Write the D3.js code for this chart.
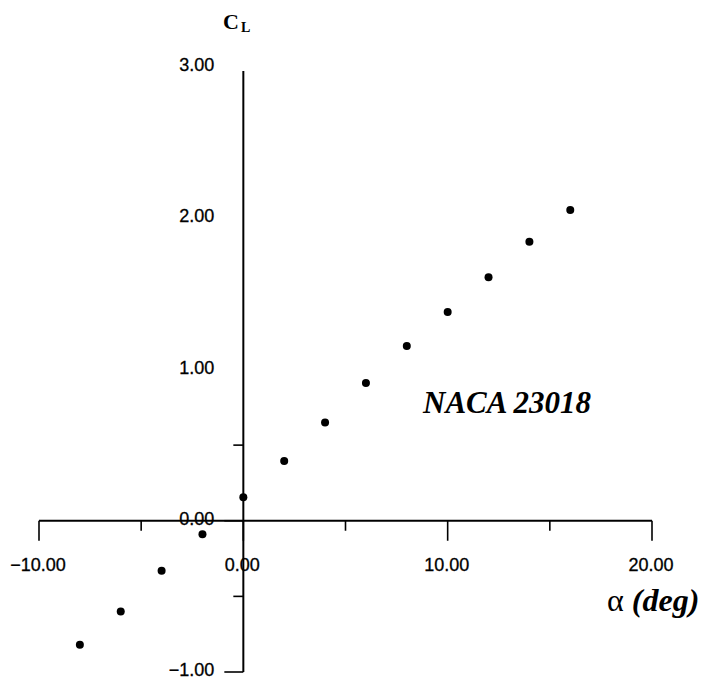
<!DOCTYPE html>
<html>
<head>
<meta charset="utf-8">
<script src="https://cdn.jsdelivr.net/npm/d3@7"></script>
<style>
  html, body { margin: 0; padding: 0; background: #fff; }
  svg { display: block; }
</style>
</head>
<body>
<svg id="chart" width="709" height="685"></svg>
<script>
// Lift coefficient vs angle of attack, NACA 23018
const alphaDeg = [-8, -6, -4, -2, 0, 2, 4, 6, 8, 10, 12, 14, 16];
const liftCoef = [-0.82, -0.60, -0.33, -0.09, 0.155, 0.395, 0.65, 0.91, 1.155, 1.38, 1.61, 1.845, 2.055];

const xTickValues = [-10, 0, 10, 20];
const xMinorTicks = [-5, 5, 15];
const yTickValues = [-1, 0, 1, 2, 3];
const yVisibleMinor = [-0.5, 0.5];

const svg = d3.select("#chart");
const x = d3.scaleLinear().domain([-10, 20]).range([39, 652]);
const y = d3.scaleLinear().domain([-1, 3]).range([672, 67]);
const fmt = d3.format(".2f");
const ink = "#000";

// x axis through y = 0
const xAxis = svg.append("g").attr("transform", `translate(0,${y(0)})`);
xAxis.append("line")
  .attr("x1", x(-10)).attr("x2", x(20))
  .attr("stroke", ink).attr("stroke-width", 2);
xAxis.selectAll("line.major").data(xTickValues).join("line")
  .attr("class", "major")
  .attr("x1", d => x(d)).attr("x2", d => x(d))
  .attr("y1", 0).attr("y2", 20)
  .attr("stroke", ink).attr("stroke-width", 1.6);
xAxis.selectAll("line.minor").data(xMinorTicks).join("line")
  .attr("class", "minor")
  .attr("x1", d => x(d)).attr("x2", d => x(d))
  .attr("y1", 0).attr("y2", 10)
  .attr("stroke", ink).attr("stroke-width", 1.6);
xAxis.selectAll("text").data(xTickValues).join("text")
  .attr("x", d => x(d) - 1).attr("y", 50)
  .attr("text-anchor", "middle")
  .attr("font-family", "Liberation Sans, Arial, sans-serif")
  .attr("font-size", 18)
  .attr("stroke", ink).attr("stroke-width", 0.3)
  .attr("fill", ink)
  .text(d => fmt(d));

// y axis through x = 0
const yAxis = svg.append("g").attr("transform", `translate(${x(0)},0)`);
yAxis.append("line")
  .attr("y1", y(3) + 4).attr("y2", y(-1))
  .attr("stroke", ink).attr("stroke-width", 2);
yAxis.selectAll("line.major").data([-1, 0]).join("line")
  .attr("class", "major")
  .attr("x1", -19).attr("x2", 0)
  .attr("y1", d => y(d)).attr("y2", d => y(d))
  .attr("stroke", ink).attr("stroke-width", 1.6);
yAxis.selectAll("line.minor").data(yVisibleMinor).join("line")
  .attr("class", "minor")
  .attr("x1", -10).attr("x2", 0)
  .attr("y1", d => y(d)).attr("y2", d => y(d))
  .attr("stroke", ink).attr("stroke-width", 1.6);
yAxis.selectAll("text").data(yTickValues).join("text")
  .attr("x", -29).attr("y", d => y(d) + 4)
  .attr("text-anchor", "end")
  .attr("font-family", "Liberation Sans, Arial, sans-serif")
  .attr("font-size", 18)
  .attr("stroke", ink).attr("stroke-width", 0.3)
  .attr("fill", ink)
  .text(d => fmt(d));

// data points
svg.append("g").selectAll("circle").data(alphaDeg).join("circle")
  .attr("cx", (d, i) => x(d))
  .attr("cy", (d, i) => y(liftCoef[i]))
  .attr("r", 4)
  .attr("fill", ink);

// axis titles
const cl = svg.append("text")
  .attr("x", 223).attr("y", 29)
  .attr("font-family", "Liberation Serif, 'Times New Roman', serif")
  .attr("font-size", 22).attr("font-weight", "bold")
  .attr("fill", ink);
cl.append("tspan").text("C");
cl.append("tspan").attr("font-size", 14).attr("dx", 2).attr("dy", 3).text("L");

const ax = svg.append("text")
  .attr("x", 607).attr("y", 611)
  .attr("font-family", "Liberation Serif, 'Times New Roman', serif")
  .attr("font-size", 32)
  .attr("fill", ink);
ax.append("tspan").text("α ");
ax.append("tspan").attr("font-weight", "bold").attr("font-style", "italic").text("(deg)");

svg.append("text")
  .attr("x", 423).attr("y", 413)
  .attr("font-family", "Liberation Serif, 'Times New Roman', serif")
  .attr("font-size", 31)
  .attr("font-weight", "bold").attr("font-style", "italic")
  .attr("fill", ink)
  .text("NACA 23018");
</script>
</body>
</html>
